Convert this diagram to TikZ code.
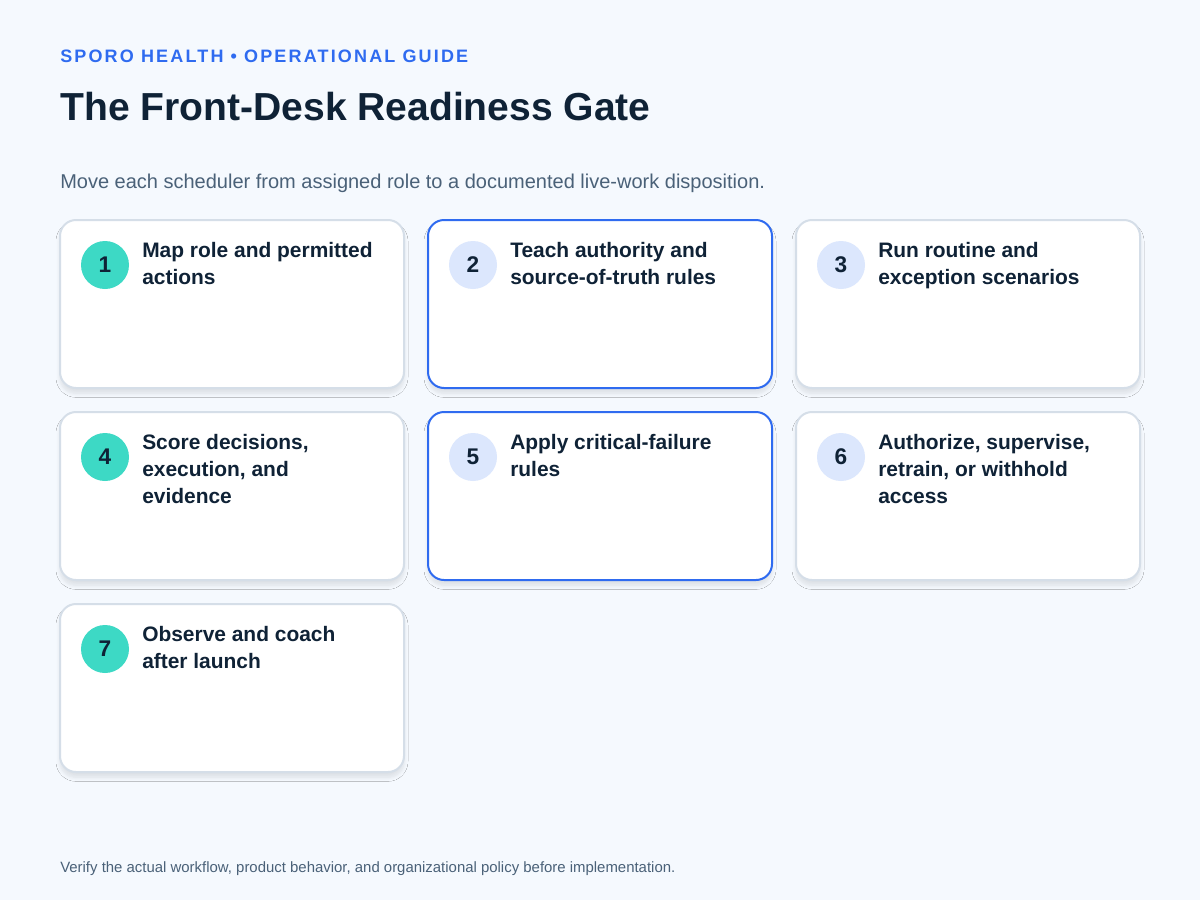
\documentclass[tikz,border=0pt]{standalone}
\usepackage{fontspec}
\setmainfont{Liberation Sans}
\usetikzlibrary{shadows.blur}
\definecolor{bg}{HTML}{F5F9FE}
\definecolor{accent}{HTML}{2F6BF0}
\definecolor{teal}{HTML}{3DD9C5}
\definecolor{lightc}{HTML}{DCE7FD}
\definecolor{ink}{HTML}{0F2236}
\definecolor{muted}{HTML}{4A6178}
\definecolor{cardline}{HTML}{D5DEE8}
\begin{document}
\begin{tikzpicture}[x=0.75pt,y=-0.75pt,
  card/.style={draw=cardline,line width=1.5pt,fill=white,rounded corners=12pt,blur shadow={shadow blur steps=6,shadow blur radius=3pt,shadow xshift=0pt,shadow yshift=-4pt,shadow opacity=10}},
  hcard/.style={card,draw=accent},
  num/.style={circle,minimum size=36pt,inner sep=0pt,font=\fontsize{17}{20}\selectfont\bfseries,text=ink},
  tnum/.style={num,fill=teal},
  lnum/.style={num,fill=lightc},
  ttl/.style={anchor=north west,align=left,inner sep=0pt,font=\fontsize{15.7}{20.25}\selectfont\bfseries,text=ink}]
\fill[bg] (0,0) rectangle (1200,900);
\useasboundingbox (0,0) rectangle (1200,900);
\node[anchor=base west,inner sep=0pt,text=accent,font=\fontsize{13.5}{16}\selectfont\bfseries\addfontfeature{LetterSpace=12}] (hdr) at (60,62) {SPORO HEALTH • OPERATIONAL GUIDE};
\node[anchor=base west,inner sep=0pt,text=ink,font=\fontsize{29.3}{34}\selectfont\bfseries] (title) at (60,120) {The Front-Desk Readiness Gate};
\node[anchor=base west,inner sep=0pt,text=muted,font=\fontsize{15}{18}\selectfont] (sub) at (60,188) {Move each scheduler from assigned role to a documented live-work disposition.};
\node[anchor=base west,inner sep=0pt,text=muted,font=\fontsize{11.2}{14}\selectfont] (foot) at (60,872) {Verify the actual workflow, product behavior, and organizational policy before implementation.};
\foreach \n/\x/\y/\st/\cs/\t in {
 1/60/220/card/tnum/{Map role and permitted\\actions},
 2/428/220/hcard/lnum/{Teach authority and\\source-of-truth rules},
 3/796/220/card/lnum/{Run routine and\\exception scenarios},
 4/60/412/card/tnum/{Score decisions,\\execution, and\\evidence},
 5/428/412/hcard/lnum/{Apply critical-failure\\rules},
 6/796/412/card/lnum/{Authorize, supervise,\\retrain, or withhold\\access},
 7/60/604/card/tnum/{Observe and coach\\after launch}}{
 \draw[\st] (\x,\y) rectangle ++(344,168);
 \node[\cs] (c\n) at (\x+45,\y+45) {\n};
 \node[ttl] (t\n) at (\x+82,\y+22) {\t};
}
\end{tikzpicture}
\end{document}
